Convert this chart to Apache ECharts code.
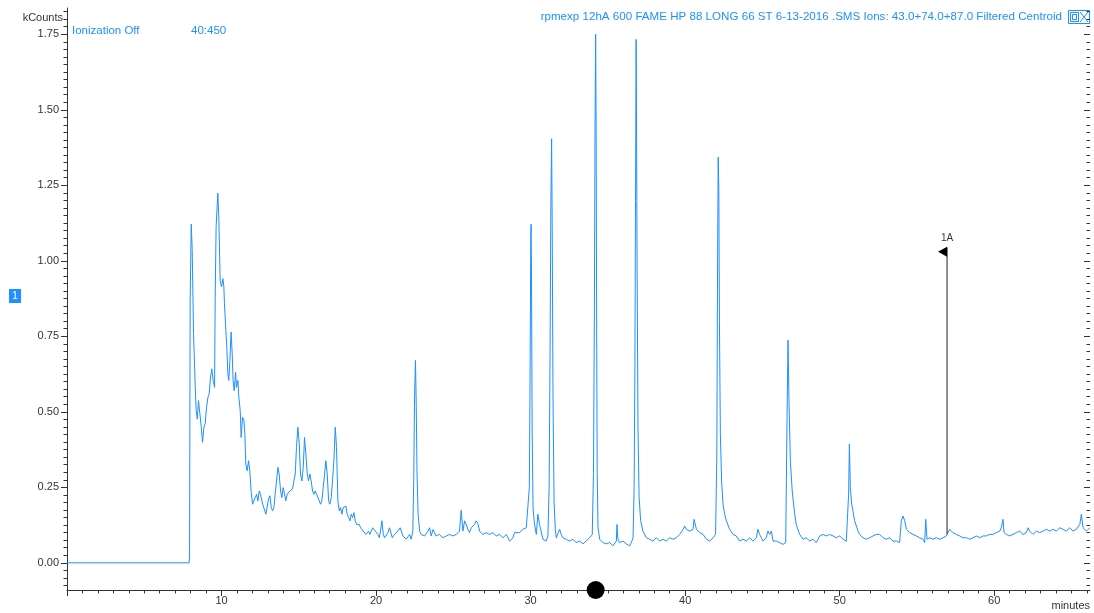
<!DOCTYPE html>
<html>
<head>
<meta charset="utf-8">
<script src="https://cdn.jsdelivr.net/npm/echarts@6/dist/echarts.min.js"></script>
<style>html,body{margin:0;padding:0;background:#fff}#chart{width:1094px;height:613px}</style>
</head>
<body>
<div id="chart"></div>
<script>
// ---- data: [minutes, kCounts] ----
const solventFront = [
[0,0],[7.90,0],[7.93,0.02],[7.97,0.864],[8.04,1.121],[8.10,1.041],[8.19,0.759],[8.30,0.581],[8.36,0.504],[8.43,0.476],
[8.51,0.537],[8.60,0.493],[8.69,0.449],[8.77,0.399],[8.86,0.449],[8.94,0.460],[9.03,0.515],[9.12,0.548],[9.20,0.559],
[9.29,0.615],[9.37,0.642],[9.46,0.604],[9.55,0.581],[9.59,0.881],[9.65,1.113],[9.76,1.224],[9.83,1.135],[9.91,0.936],
[10.00,0.914],[10.09,0.941],[10.15,0.914],[10.19,0.858],[10.28,0.770],[10.34,0.714],[10.41,0.626],[10.47,0.604],
[10.54,0.670],[10.62,0.764],[10.69,0.692],[10.75,0.604],[10.82,0.570],[10.91,0.631],[10.97,0.581],[11.06,0.604],
[11.12,0.548],[11.21,0.504],[11.27,0.415],[11.36,0.482],[11.45,0.471],[11.51,0.426],[11.57,0.327],[11.66,0.305],
[11.75,0.338],[11.83,0.305],[11.92,0.233],[12.01,0.194],[12.09,0.205],[12.18,0.216],[12.27,0.227],[12.35,0.205],
[12.44,0.238],[12.52,0.227],[12.61,0.205],[12.70,0.188],[12.78,0.183],[12.87,0.161],[12.96,0.188],[13.04,0.211],
[13.13,0.222],[13.22,0.183],[13.30,0.172],[13.39,0.183],[13.47,0.227],[13.56,0.271],[13.65,0.316],[13.73,0.294],
[13.82,0.238],[13.90,0.216],[13.99,0.249],[14.08,0.227],[14.16,0.205],[14.25,0.227],[14.34,0.233],[14.42,0.238],
[14.51,0.238],[14.59,0.244],[14.68,0.271],[14.77,0.294],[14.85,0.382],[14.94,0.449],[15.03,0.393],[15.11,0.294],
[15.20,0.271],[15.29,0.316],[15.37,0.415],[15.46,0.360],[15.55,0.294],[15.63,0.271],[15.72,0.294],[15.80,0.271],
[15.89,0.238],[15.98,0.227],[16.06,0.238],[16.15,0.227],[16.24,0.216],[16.32,0.205],[16.41,0.194],[16.49,0.205],
[16.58,0.249],[16.67,0.294],[16.75,0.338],[16.84,0.294],[16.93,0.205],[17.01,0.194],[17.10,0.216],[17.18,0.271],
[17.27,0.338],[17.36,0.449],[17.44,0.382],[17.53,0.205],[17.62,0.172],[17.70,0.183],[17.79,0.161],[17.87,0.183],
[17.96,0.177],[18.05,0.188],[18.13,0.161],[18.22,0.150],[18.31,0.139],[18.39,0.161],[18.48,0.150],[18.57,0.166],
[18.65,0.139],[18.74,0.127],[18.83,0.122],[18.91,0.127],[19.00,0.116],[19.08,0.111],[19.17,0.105],[19.26,0.100],
[19.34,0.094],[19.43,0.089],[19.52,0.105],[19.60,0.094],[19.69,0.105],[19.78,0.116],[19.86,0.122],[19.95,0.105],
[20.03,0.111],[20.12,0.094],[20.21,0.083],[20.29,0.105],[20.38,0.139],[20.47,0.094]
];
const fameRegion = [
[20.55,0.083],[20.77,0.100],[20.87,0.116],[21.05,0.083],[21.20,0.094],[21.41,0.105],[21.56,0.116],[21.74,0.089],
[21.95,0.078],[22.17,0.094],[22.27,0.078],[22.38,0.105],[22.44,0.28],[22.49,0.55],[22.55,0.670],[22.60,0.52],
[22.65,0.30],[22.72,0.16],[22.82,0.105],[22.92,0.094],[23.14,0.089],[23.36,0.105],[23.46,0.116],[23.57,0.089],
[23.68,0.110],[23.89,0.089],[24.11,0.094],[24.32,0.083],[24.54,0.089],[24.76,0.094],[24.97,0.089],[25.19,0.094],
[25.40,0.105],[25.51,0.174],[25.62,0.105],[25.73,0.139],[25.83,0.127],[25.94,0.111],[26.05,0.100],[26.16,0.116],
[26.37,0.127],[26.48,0.139],[26.59,0.130],[26.70,0.105],[26.91,0.094],[27.13,0.100],[27.34,0.094],[27.56,0.100],
[27.78,0.089],[27.99,0.094],[28.21,0.083],[28.43,0.094],[28.64,0.072],[28.86,0.083],[28.96,0.100],[29.07,0.105],
[29.29,0.100],[29.50,0.111],[29.72,0.116],[29.83,0.116],[29.92,0.25],[29.97,0.65],[30.01,1.05],[30.03,1.121],
[30.06,0.95],[30.10,0.45],[30.16,0.18],[30.25,0.13],[30.37,0.094],[30.47,0.161],[30.58,0.127],[30.80,0.078],
[31.01,0.072],[31.12,0.089],[31.20,0.25],[31.26,0.70],[31.31,1.18],[31.36,1.404],[31.40,1.10],[31.45,0.55],
[31.52,0.20],[31.60,0.11],[31.66,0.083],[31.88,0.111],[31.98,0.094],[32.09,0.083],[32.31,0.078],[32.52,0.072],
[32.74,0.078],[32.95,0.067],[33.17,0.072],[33.39,0.063],[33.60,0.072],[33.82,0.083],[33.99,0.094],[34.07,0.30],
[34.13,0.85],[34.17,1.45],[34.21,1.750],[34.24,1.45],[34.28,0.70],[34.31,0.30],[34.36,0.12],[34.47,0.078],
[34.68,0.067],[34.90,0.063],[35.12,0.067],[35.33,0.056],[35.55,0.072],[35.59,0.127],[35.65,0.078],[35.76,0.067],
[35.98,0.072],[36.19,0.063],[36.41,0.056],[36.52,0.067],[36.63,0.083],[36.70,0.25],[36.75,0.65],[36.79,1.20],
[36.83,1.733],[36.86,1.40],[36.90,0.90],[36.95,0.45],[37.02,0.22],[37.12,0.14],[37.27,0.105],[37.49,0.083],
[37.70,0.078],[37.92,0.072],[38.14,0.083],[38.35,0.072],[38.57,0.078],[38.79,0.072],[39.00,0.083],[39.22,0.078],
[39.43,0.083],[39.65,0.094],[39.87,0.111],[39.97,0.122],[40.08,0.111],[40.30,0.105],[40.51,0.111],[40.58,0.144],
[40.73,0.111],[40.94,0.100],[41.16,0.094],[41.38,0.078],[41.59,0.072],[41.81,0.083],[41.97,0.094],[42.05,0.35],
[42.10,1.00],[42.14,1.343],[42.18,1.24],[42.22,0.80],[42.28,0.426],[42.36,0.271],[42.45,0.194],[42.56,0.161],
[42.67,0.139],[42.88,0.111]
];
const lateRegion = [
[43.10,0.094],[43.31,0.089],[43.53,0.072],[43.74,0.078],[43.96,0.072],[44.18,0.083],[44.39,0.072],[44.61,0.083],
[44.71,0.111],[44.82,0.094],[45.04,0.072],[45.25,0.083],[45.36,0.105],[45.47,0.094],[45.58,0.105],[45.69,0.072],
[45.90,0.072],[46.12,0.067],[46.33,0.061],[46.51,0.067],[46.59,0.454],[46.66,0.737],[46.72,0.537],[46.81,0.338],
[46.93,0.238],[47.09,0.161],[47.19,0.127],[47.41,0.094],[47.63,0.078],[47.84,0.083],[48.06,0.072],[48.27,0.078],
[48.49,0.067],[48.71,0.089],[48.92,0.094],[49.14,0.089],[49.35,0.094],[49.57,0.089],[49.78,0.083],[50.00,0.089],
[50.22,0.078],[50.43,0.072],[50.54,0.078],[50.58,0.227],[50.63,0.393],[50.69,0.249],[50.78,0.194],[50.86,0.172],
[50.97,0.139],[51.19,0.105],[51.29,0.094],[51.51,0.083],[51.73,0.078],[51.94,0.083],[52.16,0.089],[52.37,0.094],
[52.59,0.094],[52.81,0.083],[53.02,0.078],[53.24,0.083],[53.45,0.072],[53.67,0.072],[53.88,0.067],[53.99,0.139],
[54.10,0.155],[54.21,0.139],[54.32,0.111],[54.53,0.100],[54.75,0.094],[54.96,0.089],[55.18,0.083],[55.40,0.078],
[55.50,0.067],[55.57,0.144],[55.65,0.078],[55.83,0.083],[56.04,0.078],[56.26,0.083],[56.47,0.078],[56.69,0.083],
[56.90,0.089],[57.01,0.100],[57.12,0.111],[57.33,0.100],[57.55,0.094],[57.77,0.089],[57.98,0.083],[58.20,0.083],
[58.41,0.078],[58.63,0.083],[58.84,0.089],[59.06,0.083],[59.28,0.089],[59.49,0.089],[59.71,0.094],[59.92,0.094],
[60.14,0.100],[60.36,0.105],[60.46,0.116],[60.57,0.144],[60.64,0.100],[60.79,0.094],[61.00,0.089],[61.22,0.094],
[61.44,0.100],[61.65,0.105],[61.87,0.094],[62.08,0.100],[62.19,0.116],[62.30,0.105],[62.51,0.094],[62.73,0.105],
[62.94,0.100],[63.16,0.105],[63.38,0.111],[63.59,0.105],[63.81,0.111],[64.02,0.105],[64.24,0.116],[64.46,0.111],
[64.67,0.105],[64.89,0.116],[65.10,0.105],[65.32,0.111],[65.54,0.127],[65.64,0.161],[65.75,0.116],[65.97,0.105],
[66.18,0.116]
];
const yTickValues = [0, 0.25, 0.5, 0.75, 1.0, 1.25, 1.5, 1.75];
const xTickValues = [0, 10, 20, 30, 40, 50, 60];
const xTickLabels = [10, 20, 30, 40, 50, 60];
const xRange = [0, 66.2];
const yRange = [-0.09, 1.837];
const marker = { time: 56.95, from: 0.095, to: 1.044, flag: 1.03, label: '1A' };
const cursorTime = 34.21;
const headerLeft = ['Ionization Off', '40:450'];
const headerRight = 'rpmexp 12hA 600 FAME HP 88 LONG 66 ST 6-13-2016 .SMS Ions: 43.0+74.0+87.0 Filtered Centroid';

// ---- build ----
const trace = solventFront.concat(fameRegion, lateRegion);
const xMinor = []; for (let i = 0; i <= 66; i++) xMinor.push(i);
const yMinor = []; for (let k = -3; k <= 73; k++) yMinor.push(Math.round(k * 25) / 1000);

const BLUE = '#1e90ff';
const AX = '#333';
const FONT = '"Liberation Sans", Arial, sans-serif';

function yAx(pos, minor) {
  return {
    type: 'value', min: yRange[0], max: yRange[1], position: pos,
    axisLine: { show: !minor && pos === 'left', onZero: false, lineStyle: { color: AX, width: 1 } },
    axisTick: { show: true, inside: pos === 'right', length: minor ? 3.5 : 6,
      customValues: minor ? yMinor : yTickValues, lineStyle: { color: AX, width: 1 } },
    axisLabel: { show: !minor && pos === 'left', customValues: yTickValues, margin: 8,
      formatter: v => v.toFixed(2), color: AX, fontSize: 11, fontFamily: FONT },
    splitLine: { show: false }
  };
}
function xAx(minor) {
  return {
    type: 'value', min: xRange[0], max: xRange[1], position: 'bottom',
    axisLine: { show: !minor, onZero: false, lineStyle: { color: AX, width: 1 } },
    axisTick: { show: true, length: minor ? 3.5 : 6, customValues: minor ? xMinor : xTickValues,
      lineStyle: { color: AX, width: 1 } },
    axisLabel: { show: !minor, customValues: xTickLabels, margin: 5, color: AX, fontSize: 11, fontFamily: FONT },
    splitLine: { show: false }
  };
}

const chart = echarts.init(document.getElementById('chart'), null, { renderer: 'canvas' });
chart.setOption({
  animation: false,
  backgroundColor: '#fff',
  grid: { left: 67, right: 4, top: 8, bottom: 23, containLabel: false },
  xAxis: [xAx(false), xAx(true)],
  yAxis: [yAx('left', false), yAx('left', true), yAx('right', false), yAx('right', true)],
  series: [
    { type: 'line', data: trace, symbol: 'none', showSymbol: false, sampling: 'none',
      lineStyle: { color: BLUE, width: 1 }, z: 2 },
    { type: 'line', data: [[marker.time, marker.from], [marker.time, marker.to]], symbol: 'none',
      lineStyle: { color: '#222', width: 1 }, z: 3 },
    { type: 'scatter', data: [[marker.time, marker.flag]], symbol: 'path://M0,5L9,0L9,10Z',
      symbolSize: [9, 10], symbolOffset: [-4.5, 0], itemStyle: { color: '#000', opacity: 1 }, z: 4 },
    { type: 'scatter', data: [[marker.time, marker.to]], symbolSize: 1,
      itemStyle: { color: 'rgba(0,0,0,0)' },
      label: { show: true, position: 'top', distance: 4, formatter: marker.label, color: '#000',
        fontSize: 10, fontFamily: FONT }, z: 4 },
    { type: 'scatter', data: [[cursorTime, yRange[0]]], symbolSize: 18, clip: false,
      itemStyle: { color: '#000', opacity: 1 }, z: 10 }
  ],
  graphic: [
    { type: 'text', x: 72, y: 31, style: { text: headerLeft[0], fill: BLUE, font: '11.5px ' + FONT, verticalAlign: 'middle' } },
    { type: 'text', x: 191, y: 31, style: { text: headerLeft[1], fill: BLUE, font: '11.5px ' + FONT, verticalAlign: 'middle' } },
    { type: 'text', x: 1062, y: 17, style: { text: headerRight, fill: BLUE, font: '11.6px ' + FONT, align: 'right', verticalAlign: 'middle' } },
    { type: 'rect', shape: { x: 1068.5, y: 10.5, width: 21, height: 13 }, style: { fill: 'none', stroke: BLUE, lineWidth: 1 } },
    { type: 'rect', shape: { x: 1070.5, y: 12.5, width: 8, height: 9 }, style: { fill: 'none', stroke: BLUE, lineWidth: 1 } },
    { type: 'rect', shape: { x: 1072.5, y: 14.5, width: 4, height: 5 }, style: { fill: 'none', stroke: BLUE, lineWidth: 1 } },
    { type: 'line', shape: { x1: 1080, y1: 12, x2: 1088, y2: 22 }, style: { stroke: BLUE, lineWidth: 1 } },
    { type: 'line', shape: { x1: 1088, y1: 12, x2: 1080, y2: 22 }, style: { stroke: BLUE, lineWidth: 1 } },
    { type: 'text', x: 63, y: 18, style: { text: 'kCounts', fill: AX, font: '11px ' + FONT, align: 'right', verticalAlign: 'middle' } },
    { type: 'rect', shape: { x: 9, y: 289, width: 12, height: 14 }, style: { fill: BLUE } },
    { type: 'text', x: 15, y: 296, style: { text: '1', fill: '#fff', font: '10px ' + FONT, align: 'center', verticalAlign: 'middle' } },
    { type: 'text', x: 1090, y: 606, style: { text: 'minutes', fill: AX, font: '11px ' + FONT, align: 'right', verticalAlign: 'middle' } }
  ]
});
</script>
</body>
</html>
